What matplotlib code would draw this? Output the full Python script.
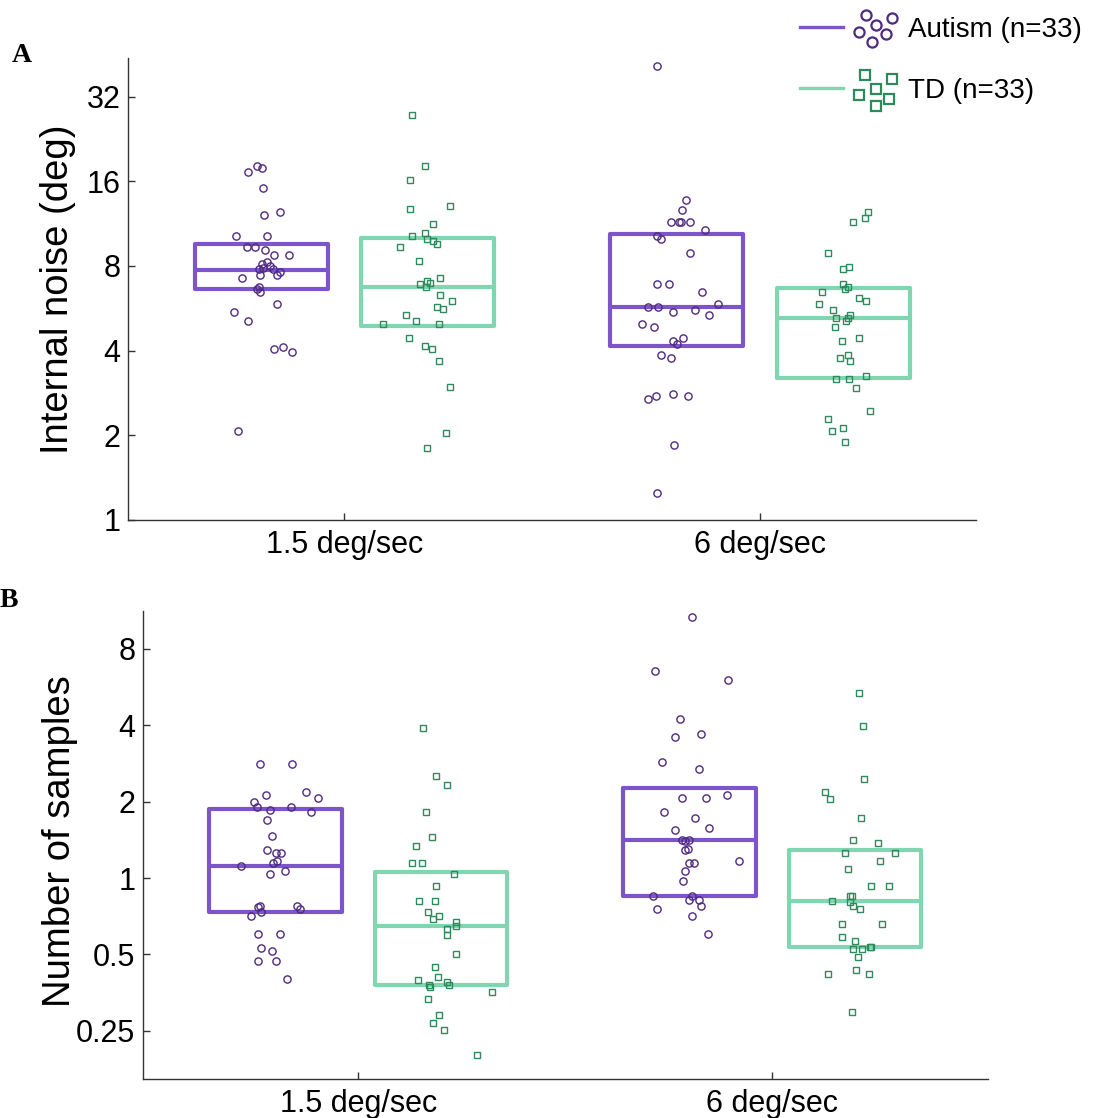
import matplotlib
matplotlib.use("Agg")
import matplotlib.pyplot as plt
from matplotlib.patches import Rectangle
from matplotlib.lines import Line2D
import numpy as np

plt.rcParams['font.family'] = ['Liberation Sans', 'DejaVu Sans']

# ---------------- data ----------------
categories = ["1.5 deg/sec", "6 deg/sec"]
groups = ["Autism (n=33)", "TD (n=33)"]

# Panel A: internal noise (deg)
a_aut_15 = [18.1, 17.3, 17.8, 15.1, 12.1, 12.4, 10.2, 10.2, 9.36, 9.36, 9.14, 8.72, 8.72, 8.14, 7.97, 7.78, 7.78,
            7.60, 7.42, 7.42, 7.24, 6.76, 6.60, 6.45, 5.88, 5.48, 5.11, 4.04, 4.13, 3.95, 2.08, 7.86, 8.25]
a_aut_15_jit = [-0.010, -0.031, 0.001, 0.004, 0.007, 0.045, -0.061, 0.014, -0.034, -0.014, 0.010, 0.031, 0.066,
                0.001, 0.020, -0.006, 0.028, 0.045, -0.003, 0.038, -0.047, -0.006, -0.010, -0.003, 0.038, -0.065,
                -0.031, 0.031, 0.052, 0.075, -0.055, 0.005, 0.014]
a_td_15 = [27.6, 18.1, 16.2, 12.8, 13.1, 11.3, 10.2, 10.5, 10.0, 9.81, 9.57, 9.36, 8.32, 7.24, 7.08, 6.91, 6.76,
           6.29, 6.01, 5.74, 5.61, 5.36, 5.11, 4.99, 4.99, 4.45, 4.14, 4.05, 3.69, 2.96, 2.04, 1.81, 6.95]
a_td_15_jit = [-0.037, -0.006, -0.041, -0.041, 0.055, 0.014, -0.038, -0.006, 0.000, 0.014, 0.024, -0.065, -0.020,
               0.031, 0.000, -0.017, -0.003, 0.031, 0.058, 0.024, 0.038, -0.051, -0.027, -0.106, 0.027, -0.044,
               -0.006, 0.010, 0.027, 0.055, 0.044, 0.000, 0.005]
a_aut_6 = [41.0, 13.7, 12.7, 11.5, 11.5, 11.5, 11.5, 10.7, 10.2, 9.99, 8.91, 6.91, 6.91, 6.44, 5.86, 5.74, 5.74,
           5.60, 5.48, 5.34, 4.99, 4.87, 4.34, 4.45, 4.23, 3.86, 3.77, 2.69, 2.75, 2.81, 2.75, 1.85, 1.245]
a_aut_6_jit = [-0.048, 0.023, 0.013, -0.014, 0.006, 0.010, 0.031, 0.068, -0.048, -0.038, 0.031, -0.048, -0.018,
               0.061, 0.098, -0.069, -0.045, 0.044, -0.010, 0.078, -0.083, -0.055, -0.010, 0.014, 0.000, -0.038,
               -0.014, -0.069, -0.051, -0.010, 0.027, -0.007, -0.048]
a_td_6 = [12.4, 11.8, 11.5, 8.91, 7.94, 7.78, 6.91, 6.74, 6.60, 6.44, 6.14, 6.01, 5.86, 5.60, 5.22, 5.34, 5.22,
          5.10, 4.87, 4.34, 4.44, 3.77, 3.86, 3.68, 3.16, 3.16, 3.24, 2.95, 2.45, 2.29, 2.08, 2.13, 1.89]
a_td_6_jit = [0.061, 0.052, 0.025, -0.037, 0.014, 0.000, 0.000, 0.011, 0.004, -0.051, 0.038, 0.055, -0.058,
              -0.024, -0.016, 0.017, 0.011, 0.007, -0.020, -0.003, 0.038, -0.007, 0.011, 0.017, -0.016, 0.014,
              0.055, 0.031, 0.065, -0.037, -0.027, 0.000, 0.004]
# box stats (q1, median, q3)
a_box_aut = [(6.60, 7.77, 9.57), (4.16, 5.74, 10.41)]
a_box_td = [(4.91, 6.76, 10.03), (3.21, 5.22, 6.66)]

# Panel B: number of samples
b_aut_15 = [2.82, 2.82, 2.13, 2.18, 2.07, 2.00, 1.90, 1.85, 1.90, 1.82, 1.69, 1.47, 1.29, 1.26, 1.26, 1.17, 1.12,
            1.07, 1.04, 0.778, 0.766, 0.737, 0.778, 0.755, 0.708, 0.600, 0.600, 0.528, 0.514, 0.471, 0.471, 0.399,
            1.15]
b_aut_15_jit = [-0.038, 0.041, -0.024, 0.074, 0.102, -0.052, -0.045, -0.014, 0.037, 0.085, -0.021, -0.008,
                -0.021, 0.000, 0.013, 0.004, -0.083, 0.024, -0.014, -0.038, -0.042, -0.035, 0.051, 0.058, -0.059,
                -0.042, 0.010, -0.035, -0.008, -0.042, 0.000, 0.027, -0.006]
b_td_15 = [3.89, 2.52, 2.33, 1.82, 1.45, 1.34, 1.15, 1.15, 1.04, 0.927, 0.814, 0.814, 0.735, 0.708, 0.689, 0.673,
           0.647, 0.630, 0.598, 0.500, 0.446, 0.408, 0.397, 0.379, 0.373, 0.388, 0.378, 0.355, 0.333, 0.289,
           0.268, 0.251, 0.200]
b_td_15_jit = [-0.043, -0.012, 0.015, -0.036, -0.022, -0.060, -0.070, -0.046, 0.032, -0.012, -0.053, -0.015,
               -0.032, -0.005, -0.019, 0.036, 0.036, 0.015, 0.015, 0.036, -0.015, -0.008, -0.056, -0.029, -0.026,
               0.015, 0.019, 0.122, -0.032, -0.005, -0.019, 0.006, 0.087]
b_aut_6 = [10.7, 6.56, 6.01, 4.24, 3.59, 3.69, 2.86, 2.68, 2.07, 2.07, 2.13, 1.82, 1.73, 1.55, 1.58, 1.41, 1.41,
           1.29, 1.15, 1.15, 1.17, 1.07, 0.976, 0.847, 0.847, 0.817, 0.817, 0.776, 0.755, 0.708, 0.600, 1.40, 1.30]
b_aut_6_jit = [0.006, -0.083, 0.094, -0.022, -0.035, 0.027, -0.066, 0.022, -0.018, 0.040, 0.091, -0.062, 0.013,
               -0.035, 0.047, -0.018, -0.001, -0.011, -0.001, 0.010, 0.119, -0.011, -0.015, -0.089, 0.006, -0.001,
               0.022, 0.027, -0.079, 0.006, 0.044, -0.010, -0.005]
b_td_6 = [5.36, 3.98, 2.45, 2.18, 2.05, 1.73, 1.41, 1.38, 1.26, 1.26, 1.09, 1.17, 0.927, 0.927, 0.814, 0.847,
          0.804, 0.776, 0.755, 0.657, 0.657, 0.584, 0.563, 0.527, 0.527, 0.533, 0.533, 0.488, 0.435, 0.418, 0.418,
          0.296, 0.85]
b_td_6_jit = [0.009, 0.019, 0.022, -0.073, -0.060, 0.015, -0.005, 0.056, -0.025, 0.097, -0.018, 0.060, 0.039,
              0.081, -0.056, -0.012, -0.012, -0.005, 0.012, -0.031, 0.064, -0.031, -0.001, -0.005, 0.016, 0.036,
              0.039, 0.006, 0.002, -0.066, 0.033, -0.008, -0.007]
b_box_aut = [(0.737, 1.12, 1.87), (0.849, 1.41, 2.26)]
b_box_td = [(0.378, 0.647, 1.06), (0.533, 0.812, 1.29)]

a_yticks = [1, 2, 4, 8, 16, 32]
a_yticklabels = ["1", "2", "4", "8", "16", "32"]
b_yticks = [0.25, 0.5, 1, 2, 4, 8]
b_yticklabels = ["0.25", "0.5", "1", "2", "4", "8"]

# ---------------- style ----------------
AUT_BOX = "#7b55c9"
AUT_PT = "#4f2a80"
TD_BOX = "#7fd6b1"
TD_PT = "#2e8a5c"
SPINE = "#333333"

W, H = 1094, 1118
fig = plt.figure(figsize=(W / 100, H / 100), dpi=100)


def fx(x):
    return x / W


def fy(y):
    return 1 - y / H


axA = fig.add_axes([fx(128.3), fy(520), (976 - 128.3) / W, (520 - 58) / H])
axB = fig.add_axes([fx(143), fy(1078.7), (987.7 - 143) / W, (1078.7 - 611) / H])

OFF = 0.2
BW = 0.32


def draw_panel(ax, aut, aut_jit, td, td_jit, box_aut, box_td, ylim, yticks, yticklabels, ylabel, label_x, label_y):
    ax.set_yscale('log')
    ax.set_xlim(0.48, 2.52)
    ax.set_ylim(*ylim)
    xs = [1, 2]
    for i, x0 in enumerate(xs):
        for (stats, dx, col) in [(box_aut[i], -OFF, AUT_BOX), (box_td[i], OFF, TD_BOX)]:
            q1, med, q3 = stats
            cx = x0 + dx
            ax.add_patch(Rectangle((cx - BW / 2, q1), BW, q3 - q1, fill=False, edgecolor=col,
                                   linewidth=3.0, joinstyle='round', zorder=2))
            ax.plot([cx - BW / 2, cx + BW / 2], [med, med], color=col, lw=3.0, solid_capstyle='butt', zorder=2)
        xa = x0 - OFF + np.array(aut_jit[i])
        ax.plot(xa, aut[i], ls='none', marker='o', ms=5.2, mfc='none', mec=AUT_PT, mew=1.0, zorder=3)
        xt = x0 + OFF + np.array(td_jit[i])
        ax.plot(xt, td[i], ls='none', marker='s', ms=4.8, mfc='none', mec=TD_PT, mew=1.0, zorder=3)
    ax.set_xticks(xs)
    ax.set_xticklabels(categories)
    ax.set_yticks(yticks)
    ax.set_yticklabels(yticklabels)
    ax.yaxis.set_minor_locator(matplotlib.ticker.NullLocator())
    for s in ['top', 'right']:
        ax.spines[s].set_visible(False)
    for s in ['left', 'bottom']:
        ax.spines[s].set_color(SPINE)
        ax.spines[s].set_linewidth(1.0)
    ax.tick_params(axis='both', direction='in', length=5, width=1, color=SPINE, labelsize=22, labelcolor='black')
    ax.tick_params(axis='y', pad=5.5)
    ax.tick_params(axis='x', pad=7.5)
    ax.set_ylabel(ylabel, fontsize=27.5)
    ax.yaxis.set_label_coords(label_x, label_y)


draw_panel(axA, [a_aut_15, a_aut_6], [a_aut_15_jit, a_aut_6_jit], [a_td_15, a_td_6], [a_td_15_jit, a_td_6_jit],
           a_box_aut, a_box_td, (1, 43.9), a_yticks, a_yticklabels, "Internal noise (deg)", -0.062, 0.5)
draw_panel(axB, [b_aut_15, b_aut_6], [b_aut_15_jit, b_aut_6_jit], [b_td_15, b_td_6], [b_td_15_jit, b_td_6_jit],
           b_box_aut, b_box_td, (0.162, 11.27), b_yticks, b_yticklabels, "Number of samples", -0.077, 0.508)

# panel letters
fig.text(fx(12), fy(62), "A", fontsize=20, fontweight='bold', family='Liberation Serif', va='baseline')
fig.text(fx(0), fy(607), "B", fontsize=20, fontweight='bold', family='Liberation Serif', va='baseline')

# legend (drawn in figure pixels)
aut_cluster = [(-9.3, -13.5), (16.7, -10.2), (0.7, -3.5), (-16.7, 3.2), (10.0, 5.8), (-3.3, 13.2)]
td_cluster = [(-10.4, -15.2), (16.6, -11.5), (0.0, -1.5), (-16.7, 4.8), (13.3, 8.8), (0.0, 15.5)]
legend_rows = [
    (groups[0], AUT_BOX, 'o', AUT_PT, 27, 28.5, aut_cluster, 7.3),
    (groups[1], TD_BOX, 's', TD_PT, 88, 90.5, td_cluster, 7.0),
]
for label, lcol, mk, mcol, ly, cy, cluster, ms in legend_rows:
    fig.add_artist(Line2D([fx(800), fx(843)], [fy(ly), fy(ly)], transform=fig.transFigure, color=lcol, lw=2.4))
    cx = 875.5
    fig.add_artist(Line2D([fx(cx + dx) for dx, dy in cluster], [fy(cy + dy) for dx, dy in cluster],
                          transform=fig.transFigure, ls='none', marker=mk, ms=ms, mfc='none', mec=mcol, mew=1.6))
    fig.text(fx(908), fy(ly + 3), label, fontsize=20, va='center', ha='left')

fig.savefig("out.png", dpi=100)
